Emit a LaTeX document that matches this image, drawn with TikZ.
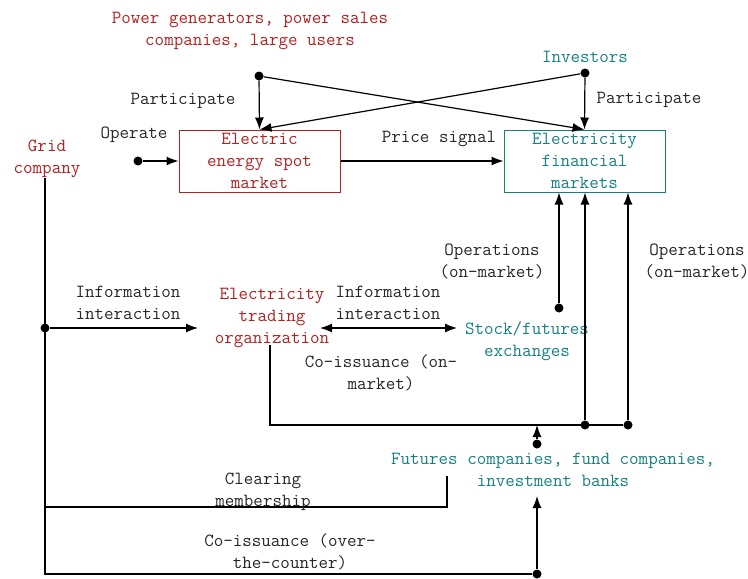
\documentclass[tikz,border=0pt]{standalone}
\usepackage{tikz}
\usetikzlibrary{arrows.meta,positioning}
\definecolor{gridred}{RGB}{180,32,32}
\definecolor{finteal}{RGB}{22,128,128}

\begin{document}
\begin{tikzpicture}[x=1pt,y=-1pt]
    \tikzstyle{txt}=[font=\ttfamily\fontsize{18.5}{22}\selectfont,align=center,inner sep=0pt,text=black!85]
    \tikzstyle{redtxt}=[txt,text=gridred]
    \tikzstyle{tealtxt}=[txt,text=finteal]
    \tikzstyle{market}=[txt,line width=1pt,minimum width=161pt,minimum height=62pt]
    \tikzstyle{dot}=[circle,fill=black,inner sep=0pt,minimum size=9pt]
    \tikzstyle{ln}=[line width=1.2pt]
    \tikzstyle{arr}=[ln,-{Latex[length=12pt,width=9pt]}]
    \tikzstyle{darr}=[ln,{Latex[length=12pt,width=9pt]}-{Latex[length=12pt,width=9pt]}]

    \useasboundingbox (0,0) rectangle (748,579);

    % markets
    \node[market,draw=gridred,text=gridred](spot) at (259.5,161) {Electric\\energy spot\\market};
    \node[market,draw=finteal,text=finteal](fin) at (584.5,161) {Electricity\\financial\\markets};

    % actors
    \node[redtxt](gen) at (250,31) {Power generators, power sales\\companies, large users};
    \node[tealtxt](inv) at (585,57) {Investors};
    \node[redtxt](grid) at (47,159) {Grid\\company};
    \node[redtxt](trade) at (272,318) {Electricity\\trading\\organization};
    \node[tealtxt](exch) at (527,341) {Stock/futures\\exchanges};
    \node[tealtxt](fut) at (553,470) {Futures companies, fund companies,\\investment banks};

    % junctions
    \node[dot](gendot) at (259,76) {};
    \node[dot](invdot) at (585,73) {};
    \node[dot](opdot) at (138,161) {};
    \node[dot](griddot) at (45,328) {};
    \node[dot](exchdot) at (559,308) {};
    \node[dot](j1) at (585,425) {};
    \node[dot](j2) at (628,425) {};
    \node[dot](futdot) at (537,444) {};
    \node[dot](otcdot) at (537,574) {};
    \coordinate (tradein) at (198,328);
    \coordinate (tradeout) at (320,328);
    \coordinate (exchin) at (457,328);
    \coordinate (tradedown) at (270,345);
    \coordinate (clear) at (447,476);
    \coordinate (futin) at (537,496);

    % top
    \draw[arr] (gendot) -- (spot.north);
    \draw[arr] (gendot) -- (fin.north);
    \draw[arr] (invdot) -- (fin.north);
    \draw[arr] (invdot) -- (spot.north);
    \draw[arr] (opdot) -- (spot.west);
    \draw[arr] (spot.east) -- (fin.west);

    % grid company
    \draw[ln] (grid.south -| griddot) -- (griddot |- otcdot) -- (otcdot);
    \draw[arr] (griddot) -- (tradein);
    \draw[darr] (tradeout) -- (exchin);
    \draw[ln] (griddot |- 0,507) -- (clear |- 0,507) -- (clear);
    \draw[arr] (otcdot) -- (futin);

    % on-market
    \draw[arr] (exchdot) -- (exchdot |- fin.south);
    \draw[ln] (tradedown) -- (tradedown |- j2) -- (j2);
    \draw[arr] (j1) -- (j1 |- fin.south);
    \draw[arr] (j2) -- (j2 |- fin.south);
    \draw[arr] (futdot) -- (futdot |- j1);

    % labels
    \node[txt](l1) at (183,101) {Participate};
    \node[txt](l2) at (649,100) {Participate};
    \node[txt](l3) at (134,135) {Operate};
    \node[txt](l4) at (439,139) {Price signal};
    \node[txt](l5) at (128,303) {Information\\interaction};
    \node[txt](l6) at (388,303) {Information\\interaction};
    \node[txt](l7) at (492,262) {Operations\\(on-market)};
    \node[txt](l8) at (697,262) {Operations\\(on-market)};
    \node[txt](l9) at (381,373) {Co-issuance (on-\\market)};
    \node[txt](l10) at (263,492) {Clearing\\membership};
    \node[txt](l11) at (290,552) {Co-issuance (over-\\the-counter)};
\end{tikzpicture}
\end{document}
